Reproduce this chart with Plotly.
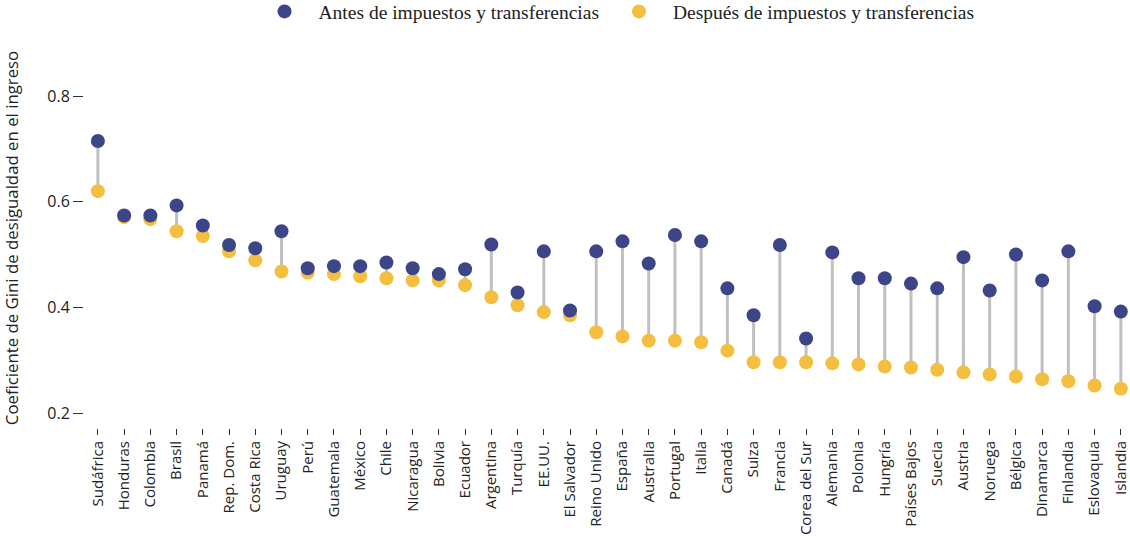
import plotly.graph_objects as go

paises = ["Sudáfrica", "Honduras", "Colombia", "Brasil", "Panamá", "Rep. Dom.", "Costa Rica",
          "Uruguay", "Perú", "Guatemala", "México", "Chile", "Nicaragua", "Bolivia", "Ecuador",
          "Argentina", "Turquía", "EE.UU.", "El Salvador", "Reino Unido", "España", "Australia",
          "Portugal", "Italia", "Canadá", "Suiza", "Francia", "Corea del Sur", "Alemania",
          "Polonia", "Hungría", "Países Bajos", "Suecia", "Austria", "Noruega", "Bélgica",
          "Dinamarca", "Finlandia", "Eslovaquia", "Islandia"]

antes = [0.715, 0.574, 0.574, 0.593, 0.555, 0.518, 0.512, 0.544, 0.474, 0.478, 0.478, 0.485,
         0.474, 0.463, 0.472, 0.519, 0.428, 0.506, 0.394, 0.506, 0.525, 0.483, 0.537, 0.525,
         0.436, 0.385, 0.518, 0.341, 0.504, 0.455, 0.455, 0.445, 0.436, 0.495, 0.432, 0.500,
         0.451, 0.506, 0.402, 0.392]

despues = [0.620, 0.571, 0.567, 0.544, 0.535, 0.506, 0.489, 0.468, 0.466, 0.463, 0.459, 0.455,
           0.451, 0.451, 0.442, 0.419, 0.404, 0.391, 0.385, 0.353, 0.345, 0.337, 0.337, 0.334,
           0.318, 0.296, 0.296, 0.296, 0.294, 0.292, 0.288, 0.286, 0.282, 0.277, 0.273, 0.269,
           0.264, 0.260, 0.252, 0.246]

tick_vals_y = [0.2, 0.4, 0.6, 0.8]
tick_text_y = ["0.2", "0.4", "0.6", "0.8"]

AZUL = "#3b4587"
AMARILLO = "#f4be3f"
GRIS = "#c0c0c0"
SANS = "Open Sans, sans-serif"
SERIF = "Liberation Serif, serif"

sx, sy = [], []
for p, a, d in zip(paises, antes, despues):
    sx += [p, p, None]
    sy += [a, d, None]

fig = go.Figure()
fig.add_trace(go.Scatter(x=sx, y=sy, mode="lines", line=dict(color=GRIS, width=3),
                         showlegend=False, hoverinfo="skip"))
fig.add_trace(go.Scatter(x=paises, y=despues, mode="markers",
                         name="Después de impuestos y transferencias", legend="legend2",
                         marker=dict(color=AMARILLO, size=14, line=dict(width=0))))
fig.add_trace(go.Scatter(x=paises, y=antes, mode="markers",
                         name="Antes de impuestos y transferencias", legend="legend",
                         marker=dict(color=AZUL, size=14, line=dict(width=0))))

leg_common = dict(orientation="h", xref="container", xanchor="left",
                  yref="container", y=0.9784, yanchor="middle",
                  font=dict(family=SERIF, size=19.5, color="#222222"),
                  itemwidth=58, bgcolor="rgba(0,0,0,0)")

fig.update_layout(
    width=1130, height=542,
    margin=dict(l=84, r=0, t=48, b=114, autoexpand=False),
    plot_bgcolor="white", paper_bgcolor="white",
    font=dict(family=SANS, color="#222222"),
    legend=dict(x=0.2217, **leg_common),
    legend2=dict(x=0.5354, **leg_common),
    xaxis=dict(type="category", categoryorder="array", categoryarray=paises,
               range=[-0.53, 39.35], tickangle=-90, ticks="outside", ticklen=6, tickwidth=1,
               tickcolor="#333333", showgrid=False, showline=False, zeroline=False,
               automargin=False,
               tickfont=dict(size=15, family=SANS, color="#222222")),
    yaxis=dict(range=[0.1716, 0.891], tickvals=tick_vals_y, ticktext=tick_text_y,
               ticks="outside", ticklen=10, tickwidth=1, tickcolor="#333333",
               showgrid=False, showline=False, zeroline=False, automargin=False,
               tickfont=dict(size=16, family=SANS, color="#222222"),
               title=dict(text="Coeficiente de Gini de desigualdad en el ingreso",
                          font=dict(size=16.8, family=SANS, color="#222222"),
                          standoff=36)),
)

fig.write_html("out.html", config={"displayModeBar": False},
               post_script="document.body.style.margin='0';document.body.style.overflow='hidden';")
